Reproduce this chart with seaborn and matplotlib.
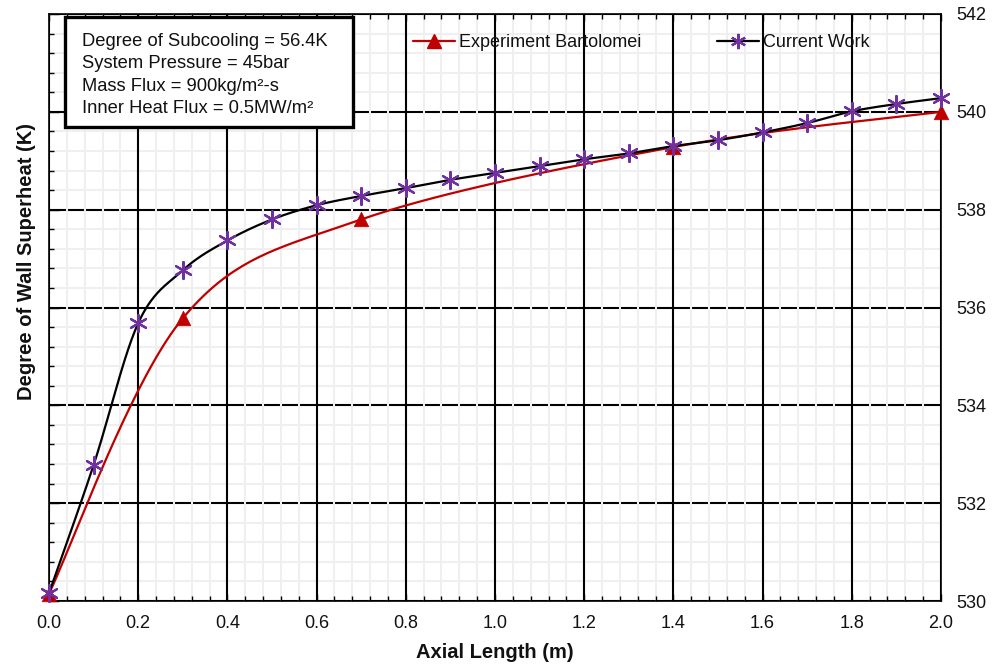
import numpy as np
import pandas as pd
import matplotlib
matplotlib.use("Agg")
import matplotlib.pyplot as plt
import seaborn as sns
from matplotlib.lines import Line2D
from matplotlib.patches import Rectangle
from matplotlib.ticker import MultipleLocator

# ---- data ----
cw_x = [0.0, 0.1, 0.2, 0.3, 0.4, 0.5, 0.6, 0.7, 0.8, 0.9, 1.0,
        1.1, 1.2, 1.3, 1.4, 1.5, 1.6, 1.7, 1.8, 1.9, 2.0]
cw_y = [530.16, 532.78, 535.68, 536.76, 537.37, 537.80, 538.09, 538.28,
        538.44, 538.61, 538.75, 538.89, 539.03, 539.15, 539.30, 539.42,
        539.58, 539.77, 540.01, 540.16, 540.28]
exp_x = [0.0, 0.3, 0.7, 1.4, 2.0]
exp_y = [530.15, 535.78, 537.80, 539.28, 540.00]
exp_label = "Experiment Bartolomei"
cw_label = "Current Work"
xlabel = "Axial Length (m)"
ylabel = "Degree of Wall Superheat (K)"
info_lines = ["Degree of Subcooling = 56.4K",
              "System Pressure = 45bar",
              "Mass Flux = 900kg/m\u00b2-s",
              "Inner Heat Flux = 0.5MW/m\u00b2"]


def smooth(xs, ys, n=40):
    """Excel-like smoothed line (Catmull-Rom Bezier) through the points."""
    P = np.column_stack([xs, ys]).astype(float)
    out = []
    for i in range(len(P) - 1):
        p0 = P[i - 1] if i > 0 else P[i]
        p1 = P[i]
        p2 = P[i + 1]
        p3 = P[i + 2] if i + 2 < len(P) else P[i + 1]
        c1 = p1 + (p2 - p0) / 6.0
        c2 = p2 - (p3 - p1) / 6.0
        t = np.linspace(0, 1, n)[:, None]
        seg = ((1 - t) ** 3) * p1 + 3 * ((1 - t) ** 2) * t * c1 + 3 * (1 - t) * t ** 2 * c2 + t ** 3 * p2
        out.append(seg if i == 0 else seg[1:])
    out = np.vstack(out)
    return pd.DataFrame({"x": out[:, 0], "y": out[:, 1]})


sns.set_theme(style="white")
plt.rcParams["font.family"] = ["Liberation Sans", "DejaVu Sans"]

RED = "#C00000"
PURPLE = "#7030A0"
TXT = "#111111"

fig = plt.figure(figsize=(10.03, 6.64), dpi=100)
ax = fig.add_axes([49 / 1003, (664 - 601) / 664, (941 - 49) / 1003, (601 - 14) / 664])

sm_exp = smooth(exp_x, exp_y)
sm_cw = smooth(cw_x, cw_y)
sns.lineplot(data=sm_exp, x="x", y="y", sort=False, color=RED, lw=1.6, ax=ax, zorder=3)
sns.lineplot(data=sm_cw, x="x", y="y", sort=False, color="black", lw=1.6, ax=ax, zorder=3)
sns.scatterplot(x=exp_x, y=exp_y, marker="^", s=110, color=RED, edgecolor=RED,
                linewidth=0.5, ax=ax, zorder=4, clip_on=False)
sns.scatterplot(x=cw_x, y=cw_y, marker=(6, 2, 0), s=150, color=PURPLE, edgecolor=PURPLE,
                linewidth=1.6, ax=ax, zorder=5, clip_on=False)

ax.set_xlim(0, 2.0)
ax.set_ylim(530, 542)
ax.xaxis.set_major_locator(MultipleLocator(0.2))
ax.xaxis.set_minor_locator(MultipleLocator(0.04))
ax.yaxis.set_major_locator(MultipleLocator(2))
ax.yaxis.set_minor_locator(MultipleLocator(0.4))
ax.xaxis.set_major_formatter(matplotlib.ticker.FormatStrFormatter("%.1f"))
ax.yaxis.set_major_formatter(matplotlib.ticker.FormatStrFormatter("%d"))

ax.grid(which="minor", color="#efefef", lw=1.5)
ax.xaxis.grid(which="major", color="black", lw=1.5, ls="-")
ax.yaxis.grid(which="major", color="black", lw=1.5, ls="-")
ax.set_axisbelow(True)
ax.yaxis.set_zorder(0.4)
ax.xaxis.set_zorder(0.6)

for s in ax.spines.values():
    s.set_color("black")
    s.set_linewidth(1.2)
    s.set_visible(True)

ax.tick_params(axis="x", which="both", direction="in", bottom=True, top=True,
               color="black", width=1.0, labelsize=13, pad=10, labelcolor=TXT)
ax.tick_params(axis="x", which="major", length=5)
ax.tick_params(axis="x", which="minor", length=3.5)
ax.tick_params(axis="y", which="both", direction="in", left=True, right=False,
               labelleft=False, labelright=True, color="black", width=1.0,
               labelsize=13, pad=11, labelcolor=TXT)
ax.tick_params(axis="y", which="major", length=7.5)
ax.tick_params(axis="y", which="minor", length=3.5)

ax.set_xlabel(xlabel, fontsize=14.5, fontweight="bold", labelpad=8, color=TXT)
ax.set_ylabel(ylabel, fontsize=14.5, fontweight="bold", color=TXT)
ax.yaxis.set_label_position("left")
ax.yaxis.set_label_coords(-13 / 892, (601 - 262) / 587)

handles = [Line2D([], [], color=RED, lw=1.6, marker="^", ms=10, mfc=RED, mec=RED),
           Line2D([], [], color="black", lw=1.6, marker=(6, 2, 0), ms=11, mfc=PURPLE,
                  mec=PURPLE, mew=1.6)]
leg = ax.legend(handles, [exp_label, cw_label], loc="upper left",
                bbox_to_anchor=((413 - 49) / 892, 1 - (34 - 14) / 587),
                ncol=2, frameon=False, fontsize=13, handlelength=2.3,
                handletextpad=0.25, columnspacing=4.2, borderaxespad=0, borderpad=0)
for t in leg.get_texts():
    t.set_color(TXT)

# info box
rect = Rectangle((65 / 1003, 1 - 127 / 664), (353 - 65) / 1003, (127 - 17) / 664,
                 transform=fig.transFigure, facecolor="white", edgecolor="black",
                 lw=2.4, zorder=10)
fig.patches.append(rect)
fig.text(82 / 1003, 1 - 33 / 664, "\n".join(info_lines), fontsize=13.2, va="top",
         ha="left", linespacing=1.42, color=TXT, zorder=11)

fig.savefig("out.png", dpi=100)
